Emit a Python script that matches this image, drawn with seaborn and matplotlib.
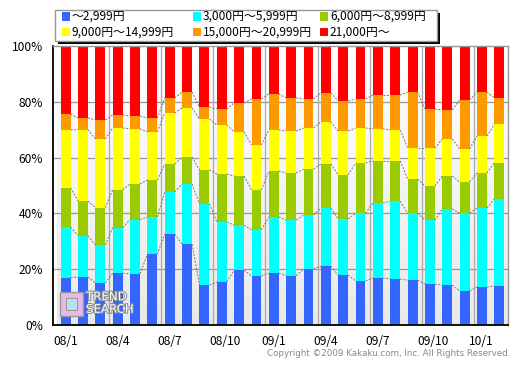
import numpy as np
import pandas as pd
import matplotlib
matplotlib.use("Agg")
import matplotlib.pyplot as plt
import seaborn as sns
from matplotlib.patches import Rectangle
from matplotlib.colors import LinearSegmentedColormap
import matplotlib.patheffects as pe

# ---- data (percent share per price band, monthly 2008/01 .. 2010/02) ----
months = ["08/1", "08/2", "08/3", "08/4", "08/5", "08/6", "08/7", "08/8", "08/9",
          "08/10", "08/11", "08/12", "09/1", "09/2", "09/3", "09/4", "09/5", "09/6",
          "09/7", "09/8", "09/9", "09/10", "09/11", "09/12", "10/1", "10/2"]
band_labels = ["～2,999円", "3,000円～5,999円", "6,000円～8,999円",
               "9,000円～14,999円", "15,000円～20,999円", "21,000円～"]
band_colors = ["#3366FF", "#00FFFF", "#99CC00", "#FFFF00", "#FF9900", "#FF0000"]

under_3k = [17.0, 17.2, 15.1, 18.6, 18.3, 25.4, 32.6, 29.0, 14.3, 15.4, 19.7, 17.6, 18.6,
            17.6, 20.1, 21.1, 17.9, 15.8, 16.8, 16.5, 16.1, 14.7, 14.3, 12.2, 13.6, 14.0]
k3_6 = [18.1, 14.8, 13.6, 16.3, 19.5, 13.3, 15.1, 21.5, 29.1, 21.5, 16.1, 16.5, 20.1,
        20.0, 19.3, 20.8, 20.1, 24.3, 26.9, 27.9, 24.0, 22.9, 27.3, 27.9, 28.3, 31.2]
k6_9 = [14.1, 12.4, 13.4, 13.6, 12.7, 13.3, 10.0, 9.7, 12.2, 17.2, 17.6, 14.3, 16.5,
        16.9, 16.5, 15.8, 15.8, 18.0, 15.1, 14.4, 12.2, 12.2, 11.8, 11.2, 12.6, 12.9]
k9_15 = [20.7, 25.6, 24.6, 22.1, 19.8, 17.2, 18.3, 17.6, 18.2, 17.6, 15.8, 16.1, 14.7,
         15.0, 14.7, 15.1, 15.7, 12.5, 11.5, 11.1, 11.1, 13.6, 13.3, 11.8, 13.2, 13.9]
k15_21 = [5.7, 4.2, 6.8, 4.7, 4.6, 5.0, 5.4, 5.7, 4.3, 5.7, 10.4, 16.5, 12.9,
          11.9, 10.4, 10.4, 10.8, 10.4, 12.1, 12.5, 20.1, 14.0, 10.4, 17.5, 15.8, 9.4]
over_21k = [24.4, 25.8, 26.5, 24.7, 25.1, 25.8, 18.6, 16.5, 21.9, 22.6, 20.4, 19.0, 17.2,
            18.6, 19.0, 16.8, 19.7, 19.0, 17.6, 17.6, 16.5, 22.6, 22.9, 19.4, 16.5, 18.6]

series = [under_3k, k3_6, k6_9, k9_15, k15_21, over_21k]
df = pd.DataFrame({lab: vals for lab, vals in zip(band_labels, series)})
df["idx"] = np.arange(len(months))
cum = np.cumsum(np.array(series), axis=0)  # cumulative tops per band

plt.rcParams["font.family"] = ["Noto Sans CJK JP", "DejaVu Sans"]

W, H = 531, 371
fig = plt.figure(figsize=(W / 100, H / 100), dpi=100)
fig.patch.set_facecolor("white")
ax = fig.add_axes([53 / W, 1 - 325 / H, (508 - 53) / W, (325 - 46) / H])

n = len(months)
# background gradient
cmap = LinearSegmentedColormap.from_list("bg", ["#ffffff", "#e9e9e9"])
ax.imshow(np.linspace(0, 1, 256).reshape(-1, 1), cmap=cmap, aspect="auto",
          extent=[-0.5, n - 0.5, 0, 100], zorder=0)

# grid
for yv in [20, 40, 60, 80]:
    ax.axhline(yv, color="#999999", lw=0.9, zorder=1)
for k in range(1, 9):
    ax.axvline(3 * k - 0.48, color="#aaaaaa", lw=0.9, zorder=1)

bw = 0.57
# stacked bars: draw cumulative tops from the highest band down
for j in range(len(series) - 1, -1, -1):
    tmp = pd.DataFrame({"idx": df["idx"], "top": cum[j]})
    sns.barplot(data=tmp, x="idx", y="top", color=band_colors[j], saturation=1,
                width=bw, errorbar=None, linewidth=0, ax=ax, zorder=2)

# dashed connectors between bars
for j in range(len(series) - 1):
    for i in range(n - 1):
        ax.plot([i + bw / 2, i + 1 - bw / 2], [cum[j][i], cum[j][i + 1]],
                ls=(0, (2, 1.5)), color="#777777", lw=0.7, zorder=3)

ax.set_xlim(-0.5, n - 0.5)
ax.set_ylim(0, 100)
ax.set_xlabel("")
ax.set_ylabel("")
ax.set_yticks([0, 20, 40, 60, 80, 100], ["0%", "20%", "40%", "60%", "80%", "100%"])
tick_pos = [3 * k - 0.73 for k in range(9)]
ax.set_xticks(tick_pos, [months[3 * k] for k in range(9)], ha="left")
ax.tick_params(axis="both", length=0, labelsize=8.6, colors="black")
ax.tick_params(axis="y", pad=7)
ax.tick_params(axis="x", pad=7)
for s in ["left", "bottom"]:
    ax.spines[s].set_color("black")
    ax.spines[s].set_linewidth(1.3)
for s in ["top", "right"]:
    ax.spines[s].set_color("#999999")
    ax.spines[s].set_linewidth(1.0)

# legend (manual, in figure pixels)
def fx(x):
    return x / W

def fy(y):
    return 1 - y / H

fig.patches.append(Rectangle((fx(58), fy(44)), fx(382), 31 / H, transform=fig.transFigure,
                             facecolor="black", edgecolor="none", zorder=5))
fig.patches.append(Rectangle((fx(55), fy(41)), fx(382), 31 / H, transform=fig.transFigure,
                             facecolor="white", edgecolor="#999999", lw=1, zorder=6))
col_x = [62, 193, 320]
row_y = [16.5, 32]
for k, (lab, colr) in enumerate(zip(band_labels, band_colors)):
    cx = col_x[k % 3]
    cy = row_y[k // 3]
    fig.patches.append(Rectangle((fx(cx), fy(cy + 4)), fx(8), 8 / H, transform=fig.transFigure,
                                 facecolor=colr, edgecolor="none", zorder=7))
    fig.text(fx(cx + 10), fy(cy), lab, fontsize=8.6, va="center", ha="left", zorder=8)

# logo
fig.patches.append(Rectangle((fx(60), fy(316)), fx(23), 24 / H, transform=fig.transFigure,
                             facecolor="#e8b8e8", edgecolor="#999999", lw=1, zorder=6))
fig.patches.append(Rectangle((fx(66), fy(310)), fx(11), 12 / H, transform=fig.transFigure,
                             facecolor="#b8e0f0", edgecolor="#999999", lw=0.8, zorder=7))
fig.text(fx(86), fy(303), "TREND\nSEARCH", fontsize=8.5, color="white", va="center",
         ha="left", linespacing=0.95, family="DejaVu Sans", zorder=8,
         path_effects=[pe.withStroke(linewidth=1.5, foreground="#888888")])

fig.text(fx(510), fy(353), "Copyright ©2009 Kakaku.com, Inc. All Rights Reserved.",
         fontsize=6.3, color="#888888", ha="right", va="center", family="DejaVu Sans")

fig.savefig("out.png", dpi=100)
